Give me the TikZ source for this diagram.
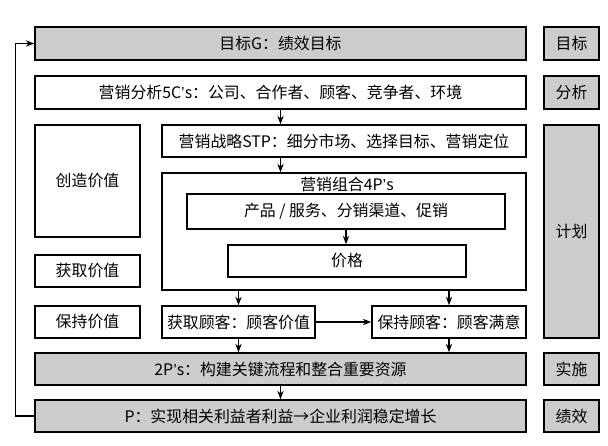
\documentclass[tikz,border=0pt]{standalone}
\usepackage{fontspec}
\setmainfont{Noto Sans CJK SC}
\newfontfamily\latinfont{Liberation Sans}
\newcommand{\apos}{{\latinfont ’}}
\usetikzlibrary{arrows.meta, positioning}

\definecolor{boxgray}{RGB}{204,204,204}
\tikzset{
  box/.style={draw, line width=1.1pt, inner sep=0pt, align=center, font=\fontsize{11.3}{13}\selectfont},
  graybox/.style={box, fill=boxgray},
  flow/.style={-{Stealth[length=6pt, width=4.5pt]}, line width=0.9pt},
}

\begin{document}
\begin{tikzpicture}
\useasboundingbox (0,0) rectangle (15.2,-11.15);
% main column
\node[graybox, minimum width=12.275cm, minimum height=0.825cm] (goal) at (7.0125,-1.0875) {目标G：绩效目标};
\node[box, minimum width=12.275cm, minimum height=0.825cm] (ana) at (7.0125,-2.3125) {营销分析5C\apos s：公司、合作者、顾客、竞争者、环境};
\node[box, minimum width=9.1cm, minimum height=0.8cm] (stp) at (8.6,-3.525) {营销战略STP：细分市场、选择目标、营销定位};
\node[box, minimum width=9.1cm, minimum height=2.925cm] (mix) at (8.6,-5.7875) {};
\node[font=\fontsize{11.3}{13}\selectfont, inner sep=0pt] (mixtitle) at (8.675,-4.61) {营销组合4P\apos s};
\node[box, minimum width=7.95cm, minimum height=0.875cm] (prod) at (8.65,-5.2875) {产品 / 服务、分销渠道、促销};
\node[box, minimum width=5.95cm, minimum height=0.8cm] (price) at (8.675,-6.525) {价格};
\node[box, minimum width=3.825cm, minimum height=0.8cm] (acq) at (5.9625,-8.05) {获取顾客：顾客价值};
\node[box, minimum width=3.85cm, minimum height=0.8cm] (keep) at (11.225,-8.05) {保持顾客：顾客满意};
\node[graybox, minimum width=12.275cm, minimum height=0.8cm] (twop) at (7.0125,-9.225) {2P\apos s：构建关键流程和整合重要资源};
\node[graybox, minimum width=12.275cm, minimum height=0.8cm] (perf) at (7.0125,-10.4) {P：实现相关利益者利益→企业利润稳定增长};
% value column
\node[box, minimum width=2.625cm, minimum height=2.8cm] (create) at (2.1875,-4.525) {创造价值};
\node[box, minimum width=2.625cm, minimum height=0.8cm] (capture) at (2.1875,-6.775) {获取价值};
\node[box, minimum width=2.625cm, minimum height=0.8cm] (retain) at (2.1875,-8.05) {保持价值};
% stage column
\node[graybox, minimum width=1.375cm, minimum height=0.825cm] (goalR) at (14.2875,-1.0875) {目标};
\node[graybox, minimum width=1.375cm, minimum height=0.825cm] (anaR) at (14.2875,-2.3125) {分析};
\node[graybox, minimum width=1.375cm, minimum height=5.325cm] (planR) at (14.2875,-5.7875) {计划};
\node[graybox, minimum width=1.375cm, minimum height=0.8cm] (implR) at (14.2875,-9.225) {实施};
\node[graybox, minimum width=1.375cm, minimum height=0.8cm] (perfR) at (14.2875,-10.4) {绩效};
% arrows
\draw[flow] (ana.south) -- (ana.south |- stp.north);
\draw[flow] (ana.south |- stp.south) -- (ana.south |- mix.north);
\draw[flow] (prod.south) -- (prod.south |- price.north);
\draw[flow] (acq.north |- mix.south) -- (acq.north);
\draw[flow] (keep.north |- mix.south) -- (keep.north);
\draw[flow] (acq) -- (keep);
\draw[flow] (acq.south) -- (acq.south |- twop.north);
\draw[flow] (keep.south) -- (keep.south |- twop.north);
\draw[flow] (twop.south) -- (perf.north);
% feedback
\draw[flow] (perf.west) -- ++(-0.475,0) |- (goal.west);
\end{tikzpicture}
\end{document}
